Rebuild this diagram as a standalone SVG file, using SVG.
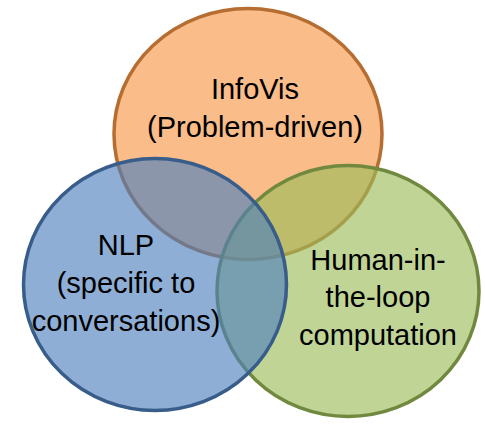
<svg xmlns="http://www.w3.org/2000/svg" width="485" height="436" viewBox="0 0 485 436">
  <style>
    .set { stroke-width: 3.5; }
    .lbl { font-family: "Liberation Sans", Arial, sans-serif; font-size: 29px; fill: #000000; text-anchor: middle; }
  </style>
  <rect width="485" height="436" fill="#ffffff"/>
  <g id="infovis">
    <ellipse class="set" cx="248" cy="134" rx="134" ry="125.5" fill="#F79646" fill-opacity="0.64" stroke="#B66D31"/>
    <text class="lbl" x="255" y="99">InfoVis</text>
    <text class="lbl" x="255" y="137">(Problem-driven)</text>
  </g>
  <g id="human-in-the-loop">
    <ellipse class="set" cx="348" cy="291" rx="131" ry="125.5" fill="#9BBB59" fill-opacity="0.64" stroke="#71893F"/>
    <text class="lbl" x="378" y="270">Human-in-</text>
    <text class="lbl" x="378" y="307">the-loop</text>
    <text class="lbl" x="378" y="345">computation</text>
  </g>
  <g id="nlp">
    <ellipse class="set" cx="155" cy="284.5" rx="131.5" ry="126" fill="#4F81BD" fill-opacity="0.64" stroke="#385D8A"/>
    <text class="lbl" x="126" y="255">NLP</text>
    <text class="lbl" x="126" y="293">(specific to</text>
    <text class="lbl" x="126" y="331">conversations)</text>
  </g>
</svg>
